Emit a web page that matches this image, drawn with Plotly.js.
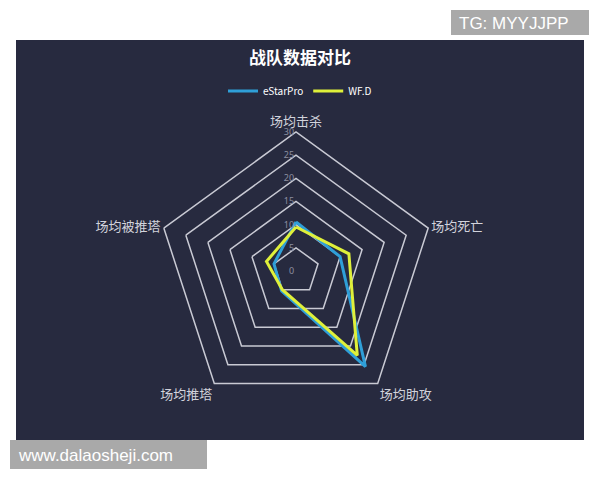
<!DOCTYPE html>
<html>
<head>
<meta charset="utf-8">
<script src="https://cdn.plot.ly/plotly-3.0.1.min.js"></script>
<style>html,body{margin:0;padding:0;background:#fff;}#chart{width:600px;height:480px;}</style>
</head>
<body>
<div id="chart"></div>
<script>
const categories = ['场均击杀', '场均死亡', '场均助攻', '场均推塔', '场均被推塔'];
const seriesNames = ['eStarPro', 'WF.D'];
const eStarPro = [10.6, 10, 25.5, 5.3, 5];
const wfd = [9.5, 12, 22.5, 5, 6.7];
const radialTicks = [0, 5, 10, 15, 20, 25, 30];

const close = a => a.concat([a[0]]);
const theta = close(categories);

const traces = [
  {type:'scatterpolar', r: close(eStarPro), theta: theta, name: seriesNames[0], mode:'lines',
   line:{color:'#2f9fd8', width:3}},
  {type:'scatterpolar', r: close(wfd), theta: theta, name: seriesNames[1], mode:'lines',
   line:{color:'#dff03a', width:3}}
];

const layout = {
  width:600, height:480,
  margin:{l:0,r:0,t:0,b:0},
  paper_bgcolor:'#ffffff',
  showlegend:true,
  legend:{orientation:'h', x:0.5, xanchor:'center', y:1-91/480, yanchor:'middle',
    font:{family:'Noto Sans CJK SC, Noto Sans', size:10, color:'#ffffff'}, bgcolor:'rgba(0,0,0,0)',
    itemwidth:30, tracegroupgap:0},
  title:{text:'<b>战队数据对比</b>', x:0.5, xanchor:'center', y:1-58/480, yanchor:'middle',
    font:{family:'Noto Sans CJK SC', size:17, color:'#ffffff'}},
  shapes:[
    {type:'rect', xref:'paper', yref:'paper', x0:16/600, x1:584/600, y0:1-440/480, y1:1-40/480,
     fillcolor:'#272a3f', line:{width:0}, layer:'below'},
    {type:'rect', xref:'paper', yref:'paper', x0:451/600, x1:589/600, y0:1-35/480, y1:1-10/480,
     fillcolor:'#a9a9a9', line:{width:0}, layer:'above'},
    {type:'rect', xref:'paper', yref:'paper', x0:10/600, x1:207/600, y0:1-469/480, y1:1-440/480,
     fillcolor:'#a9a9a9', line:{width:0}, layer:'above'}
  ],
  annotations:[
    {text:'TG: MYYJJPP', xref:'paper', yref:'paper', x:457/600, y:1-23/480, xanchor:'left', yanchor:'middle',
     showarrow:false, font:{family:'Liberation Sans', size:17, color:'#ffffff'}},
    {text:'www.dalaosheji.com', xref:'paper', yref:'paper', x:16/600, y:1-455/480, xanchor:'left', yanchor:'middle',
     showarrow:false, font:{family:'Liberation Sans', size:17, color:'#ffffff'}}
  ],
  polar:{
    bgcolor:'rgba(0,0,0,0)',
    domain:{x:[157/600, 435/600], y:[1-410/480, 1-132/480]},
    gridshape:'linear',
    radialaxis:{range:[0,30], tickvals:radialTicks, angle:90, tickangle:90,
      showline:false, showgrid:true, gridcolor:'#c9cad4', gridwidth:1.5, ticks:'',
      tickfont:{family:'Noto Sans', size:9, color:'#8d8fa0'}, side:'counterclockwise'},
    angularaxis:{rotation:90, direction:'clockwise', showgrid:false, showline:true,
      linecolor:'#c9cad4', linewidth:1.5, ticks:'',
      tickfont:{family:'Noto Sans CJK SC', size:13, color:'#d2d3dc'}}
  }
};
Plotly.newPlot('chart', traces, layout, {displayModeBar:false, staticPlot:true});
</script>
</body>
</html>
